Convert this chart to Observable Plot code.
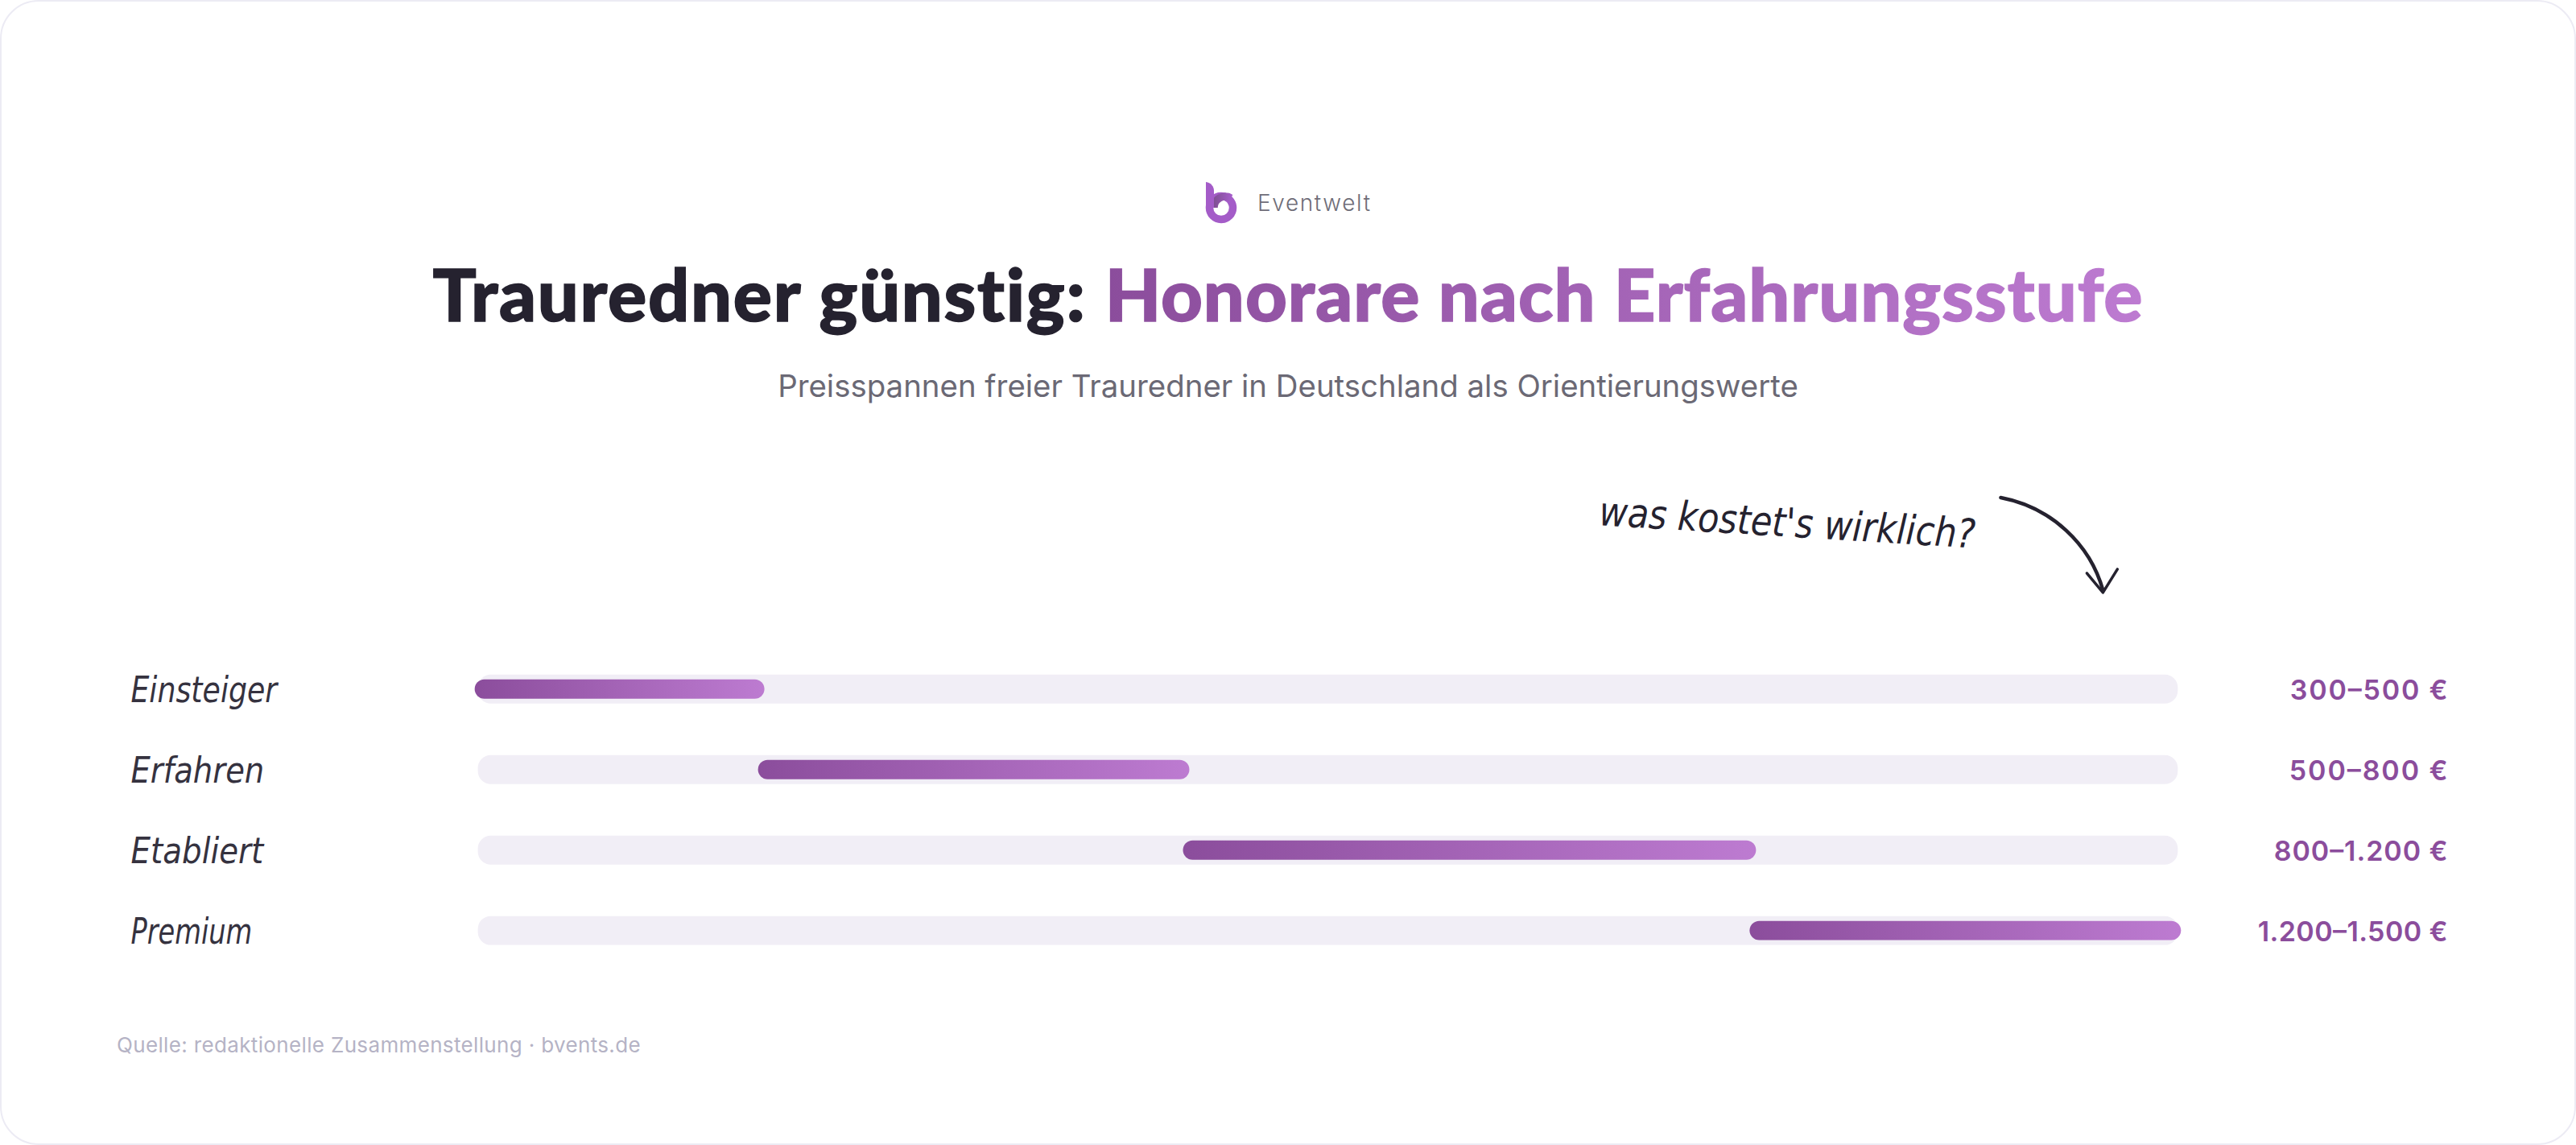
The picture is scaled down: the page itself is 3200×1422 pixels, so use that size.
<!doctype html>
<html lang="de"><head><meta charset="utf-8">
<script src="https://cdn.jsdelivr.net/npm/d3@7"></script>
<script src="https://cdn.jsdelivr.net/npm/@observablehq/plot@0.6"></script>
<style>
html,body{margin:0;padding:0;background:#fff}
#card{position:relative;box-sizing:border-box;width:3200px;height:1422px;border:2px solid #ecebf4;border-radius:48px;background:#fff;overflow:hidden}
#brand{position:absolute;left:1494px;top:222px;height:56px;width:240px}
#brand span{position:absolute;left:66px;top:10px;font:300 28px/36px Inter,sans-serif;letter-spacing:1.6px;color:#6f6d78;white-space:nowrap}
#title{position:absolute;left:0;width:3196px;top:302px;text-align:center;font:900 90px/120px Lato,sans-serif;letter-spacing:1.7px;font-variant-ligatures:none;color:#25222f;-webkit-text-stroke:1.5px #25222f;white-space:nowrap}
#title span{letter-spacing:1px;background:linear-gradient(90deg,#8b4d9c,#bd7bd1);-webkit-background-clip:text;background-clip:text;color:transparent;-webkit-text-stroke:1.5px transparent}
#sub{position:absolute;left:0;width:3196px;top:450px;text-align:center;font:400 38.4px/54px Inter,sans-serif;color:#6b6975;white-space:nowrap}
#plot{position:absolute;left:-2px;top:556px}
#src{position:absolute;left:143px;top:1278px;font:400 26px/36px Inter,sans-serif;letter-spacing:.35px;color:#b5b3c5;white-space:nowrap}
</style></head><body>
<div id="card">
<div id="brand"><svg width="44" height="56" viewBox="0 0 44 56"><defs><linearGradient id="lg" x1="0" x2="1"><stop offset="0" stop-color="#7f4f92"/><stop offset="1" stop-color="#a45cc8"/></linearGradient></defs>
<circle cx="21" cy="34" r="14.5" fill="none" stroke="#a45cc8" stroke-width="9.5"/>
<path d="M12 34A14 14 0 0 1 33 22" fill="none" stroke="url(#lg)" stroke-width="9.5"/>
<path d="M2 2C8 3 12 7 12 13V34H2Z" fill="#a45cc8"/></svg><span>Eventwelt</span></div>
<div id="title">Trauredner günstig: <span>Honorare nach Erfahrungsstufe</span></div>
<div id="sub">Preisspannen freier Trauredner in Deutschland als Orientierungswerte</div>
<div id="plot"></div>
<div id="src">Quelle: redaktionelle Zusammenstellung · bvents.de</div>
</div>
<script>
const stufen = ["Einsteiger","Erfahren","Etabliert","Premium"];
const von = [300,500,800,1200];
const bis = [500,800,1200,1500];
const spannen = ["300–500 €","500–800 €","800–1.200 €","1.200–1.500 €"];
const skalaMin = 300, skalaMax = 1500;
const notiz = ["was kostet's wirklich?"];
const breiten = {"Einsteiger":182,"Erfahren":166,"Etabliert":165,"Premium":151,"was kostet's wirklich?":468,
  "300–500 €":196,"500–800 €":197,"800–1.200 €":216,"1.200–1.500 €":236};
const rows = stufen.map((s,i)=>({s,a:von[i],b:bis[i],t:spannen[i]}));
const hand = "'DejaVu Sans',sans-serif";

const defsMark = () => {
  const g = d3.create("svg:defs");
  const lg = g.append("linearGradient").attr("id","barGrad");
  lg.append("stop").attr("offset",0).attr("stop-color","#8b4d9c");
  lg.append("stop").attr("offset",1).attr("stop-color","#bd7bd1");
  return g.node();
};
const arrowMark = () => {
  const g = d3.create("svg:g").attr("fill","none").attr("stroke","#25222f").attr("stroke-linecap","round").attr("stroke-linejoin","round").attr("stroke-width",4.5);
  const o = 558;
  g.append("path").attr("d",`M2487 ${618-o}C2550 ${630-o} 2598 ${676-o} 2614 ${733-o}`);
  g.append("path").attr("d",`M2594 ${712-o}L2614 ${736-o}L2632 ${707-o}`).attr("stroke-width",3.5);
  return g.node();
};

const chart = Plot.plot({
  width:3200, height:690, margin:0,
  x:{domain:[skalaMin,skalaMax],range:[594,2707],axis:null},
  y:{domain:stufen,range:[248,648],padding:0,axis:null},
  marks:[
    defsMark,
    Plot.barX(rows,{x1:()=>skalaMin,x2:()=>skalaMax,y:"s",fill:"#f1eef6",insetTop:32,insetBottom:32,rx:16}),
    Plot.barX(rows,{x1:"a",x2:"b",y:"s",fill:"url(#barGrad)",insetTop:38,insetBottom:38,insetLeft:-4,insetRight:-4,rx:12}),
    Plot.text(rows,{text:"s",y:"s",frameAnchor:"left",dx:162,dy:2,textAnchor:"start",fontSize:44,fontStyle:"italic",fill:"#35323f",fontFamily:hand}),
    Plot.text(rows,{text:"t",y:"s",frameAnchor:"right",dx:-158,dy:2,textAnchor:"end",fontSize:34,fontWeight:600,fill:"#8b4d9c",fontFamily:"Inter,sans-serif"}),
    Plot.text(notiz,{text:d=>d,x:()=>1224,y:()=>"Einsteiger",dy:-206,rotate:3.5,fontSize:50,fontStyle:"italic",fill:"#25222f",fontFamily:hand}),
    arrowMark
  ]
});
d3.select(chart).selectAll("text").each(function(){
  const w = breiten[this.textContent];
  if (w) { this.setAttribute("textLength",w); this.setAttribute("lengthAdjust","spacing"); if (!/€/.test(this.textContent)) this.setAttribute("lengthAdjust","spacingAndGlyphs"); }
});
document.getElementById("plot").append(chart);
</script>
</body></html>
